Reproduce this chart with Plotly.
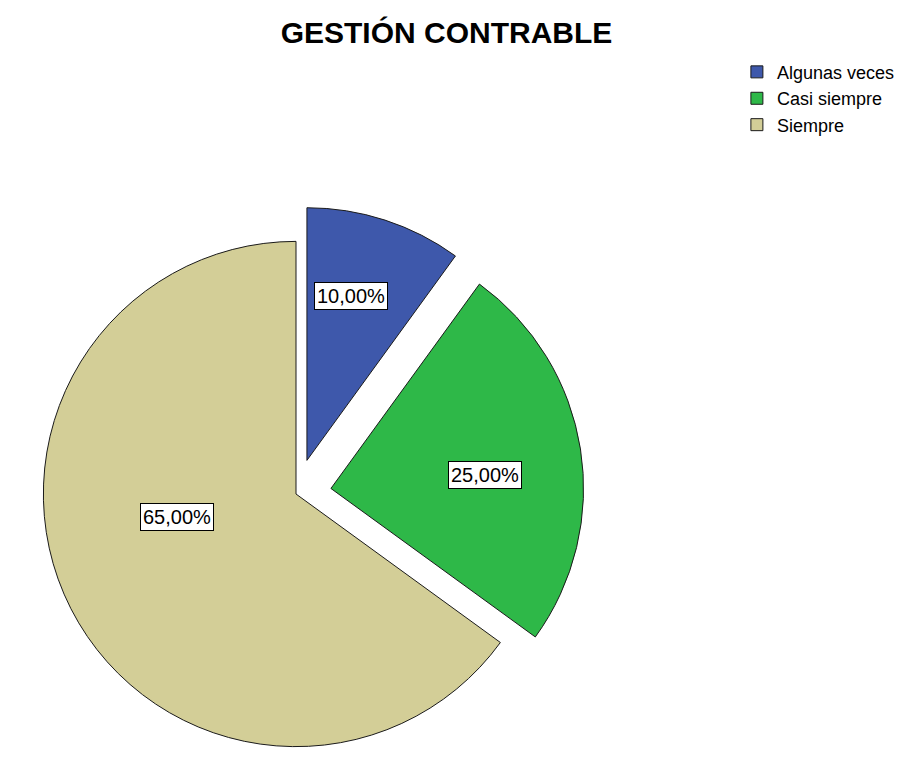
import math
import plotly.graph_objects as go

# ---- data ----
categories = ["Algunas veces", "Casi siempre", "Siempre"]
percentages = [10.0, 25.0, 65.0]
label_texts = ["10,00%", "25,00%", "65,00%"]

# ---- style ----
colors = ["#3E58AB", "#2EB848", "#D3CE97"]
pulls = [0.14, 0.14, 0.0]
label_radius = [0.673, 0.612, 0.48]     # fraction of radius from slice apex
label_angle_shift = [-3.0, 4.0, 16.0]   # degrees, clockwise from slice bisector

W, H = 918, 774
half_box = 288  # half size of the pie box in px
max_pull = max(pulls)
r = half_box / (1 + max_pull)
cx, cy = half_box, H - half_box

FONT = "Liberation Sans, Arial, sans-serif"

fig = go.Figure()
fig.add_trace(go.Pie(
    labels=categories,
    values=percentages,
    sort=False,
    direction="clockwise",
    rotation=0,
    pull=pulls,
    textinfo="none",
    hoverinfo="label+percent",
    marker=dict(colors=colors, line=dict(color="#1a1a1a", width=1)),
    domain=dict(x=[0, 2 * half_box / W], y=[0, 2 * half_box / H]),
))

# label boxes positioned from the data (slice angles)
total = sum(percentages)
cum = 0.0
annotations = []
for val, txt, pl, k, sh in zip(percentages, label_texts, pulls, label_radius, label_angle_shift):
    mid = (cum + val / 2) / total * 2 * math.pi
    cum += val
    ax = cx + pl * r * math.sin(mid)
    ay = cy - pl * r * math.cos(mid)
    la = mid + math.radians(sh)
    lx = ax + k * r * math.sin(la)
    ly = ay - k * r * math.cos(la)
    annotations.append(dict(
        x=lx / W, y=1 - ly / H, xref="paper", yref="paper",
        text=txt, showarrow=False,
        font=dict(family=FONT, size=20, color="black"),
        bgcolor="white", bordercolor="black", borderwidth=1, borderpad=2,
        xanchor="center", yanchor="middle",
    ))

fig.update_layout(
    width=W, height=H,
    margin=dict(l=0, r=0, t=0, b=0),
    paper_bgcolor="white",
    plot_bgcolor="white",
    title=dict(
        text="GESTIÓN CONTRABLE",
        x=0.4777, xanchor="center",
        y=1 - 24 / H, yanchor="middle",
        font=dict(family=FONT, size=30, color="black", weight="bold"),
    ),
    legend=dict(
        x=0.794, y=0.941, xanchor="left", yanchor="top",
        font=dict(family=FONT, size=18, color="black"),
        bgcolor="rgba(0,0,0,0)",
        traceorder="normal",
    ),
    annotations=annotations,
)

fig.write_html("out.html")
